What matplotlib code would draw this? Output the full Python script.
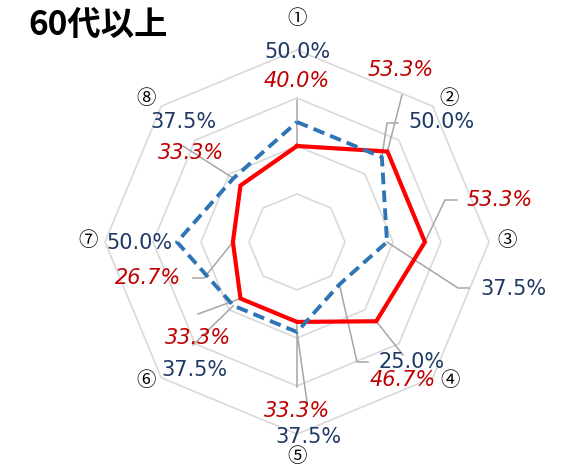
import numpy as np
import matplotlib.pyplot as plt

plt.rcParams['font.family'] = ['DejaVu Sans', 'Noto Sans CJK JP']

title = '60代以上'
categories = ['①', '②', '③', '④', '⑤', '⑥', '⑦', '⑧']
red_values = [40.0, 53.3, 53.3, 46.7, 33.3, 33.3, 26.7, 33.3]
blue_values = [50.0, 50.0, 37.5, 25.0, 37.5, 37.5, 50.0, 37.5]
grid_levels = [20, 40, 60, 80]

# layout helpers (pixel positions in the 570x467 picture -> data units)
CX, CY, SCALE = 297, 242, 2.4


def px(x, y):
    return (x - CX) / SCALE, (CY - y) / SCALE


cat_pos = [(297, 18), (449, 99), (507, 240), (450, 381),
           (297, 457), (146, 380), (88, 240), (146, 98)]
red_label_pos = [(297, 81), (401, 70), (500, 200), (403, 380),
                 (297, 411), (198, 338), (148, 278), (191, 153)]
blue_label_pos = [(297, 52), (441, 122), (513, 289), (412, 362),
                  (308, 437), (194, 370), (139, 243), (183, 122)]
red_leaders = [[(297, 100)], [(402, 95)], [(445, 200), (457, 200)], [(403, 355)],
               [(297, 387)], [(198, 314)], [(204, 278), (193, 278)], []]
blue_leaders = [[], [(387, 123), (398, 123)], [(458, 288), (469, 288)],
                [(357, 362), (368, 362)], [(307, 402)], [(193, 345)], [], [(183, 146)]]

RED = '#FF0000'
BLUE = '#2E75B6'
RED_TXT = '#C00000'
BLUE_TXT = '#1F3864'
GRID = '#D9D9D9'
LEADER = '#A6A6A6'

angles = np.arange(len(categories)) * 2 * np.pi / len(categories)


def to_xy(values):
    v = np.asarray(values)
    return v * np.sin(angles), v * np.cos(angles)


fig = plt.figure(figsize=(5.7, 4.67), dpi=100)
ax = fig.add_axes([0, 0, 1, 1])
ax.set_xlim(-CX / SCALE, (570 - CX) / SCALE)
ax.set_ylim(-(467 - CY) / SCALE, CY / SCALE)
ax.axis('off')

for lvl in grid_levels:
    gx, gy = to_xy([lvl] * len(categories))
    ax.plot(np.append(gx, gx[0]), np.append(gy, gy[0]), color=GRID, lw=1.2, zorder=1)

rx, ry = to_xy(red_values)
bx, by = to_xy(blue_values)

for i in range(len(categories)):
    for (sx, sy), leaders in (((rx[i], ry[i]), red_leaders[i]), ((bx[i], by[i]), blue_leaders[i])):
        if leaders:
            pts = [px(*p) for p in leaders]
            xs = [sx] + [p[0] for p in pts]
            ys = [sy] + [p[1] for p in pts]
            ax.plot(xs, ys, color=LEADER, lw=1.1, zorder=2)

ax.plot(np.append(rx, rx[0]), np.append(ry, ry[0]), color=RED, lw=3, zorder=3,
        solid_joinstyle='miter')
ax.plot(np.append(bx, bx[0]), np.append(by, by[0]), color=BLUE, lw=2.8, zorder=4,
        linestyle=(0, (3, 1.6)))

for i, cat in enumerate(categories):
    ax.text(*px(*cat_pos[i]), cat, ha='center', va='center', fontsize=14, color='black',
            family=['Noto Sans CJK JP', 'DejaVu Sans'])
    ax.text(*px(*red_label_pos[i]), f'{red_values[i]:.1f}%', ha='center', va='center',
            fontsize=15, color=RED_TXT, style='italic', zorder=5)
    ax.text(*px(*blue_label_pos[i]), f'{blue_values[i]:.1f}%', ha='center', va='center',
            fontsize=15, color=BLUE_TXT, zorder=5)

ax.text(*px(28, 25), title, ha='left', va='center', fontsize=24, fontweight='bold',
        family=['Noto Sans CJK JP', 'DejaVu Sans'])

fig.savefig('out.png', dpi=100)
